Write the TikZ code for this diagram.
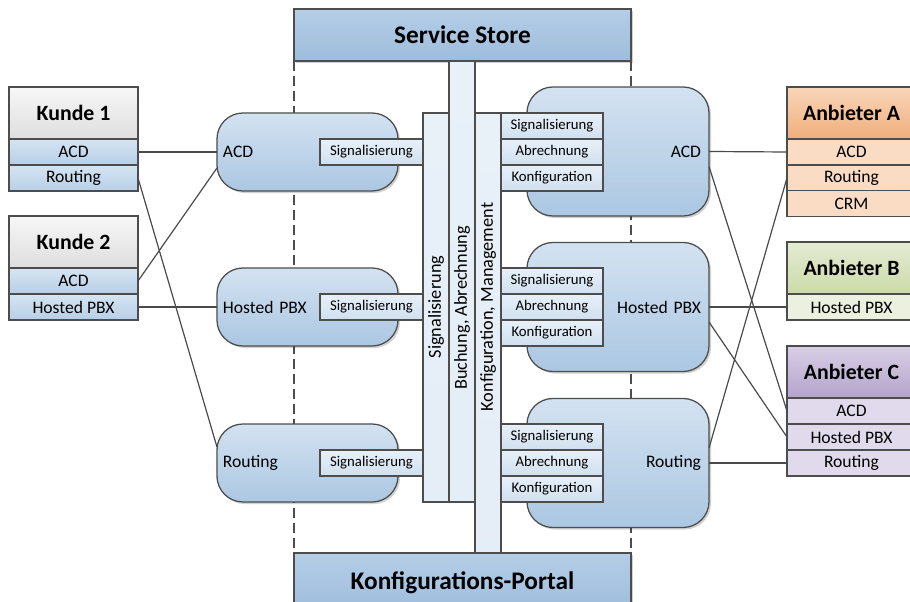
\documentclass[tikz,border=0pt]{standalone}
\usepackage{fontspec}
\setmainfont{Carlito}
\usepackage{tikz}
\usetikzlibrary{shapes,backgrounds,arrows,shadows}

\definecolor{framegray}{HTML}{4D4D4D}
\definecolor{wiregray}{HTML}{4A4A4A}
\definecolor{blueTop}{HTML}{D3E2F1}
\definecolor{blueBot}{HTML}{ABC7E2}
\definecolor{storeTop}{HTML}{B5CEE7}
\definecolor{storeBot}{HTML}{9DBCDC}
\definecolor{paleTop}{HTML}{E8F0F8}
\definecolor{paleBot}{HTML}{D0E0EF}
\definecolor{rowTop}{HTML}{D5E4F2}
\definecolor{rowBot}{HTML}{B7CFE7}
\definecolor{grayTop}{HTML}{F7F7F7}
\definecolor{grayBot}{HTML}{DEDEDE}
\definecolor{orangeTop}{HTML}{F9D6B8}
\definecolor{orangeBot}{HTML}{F0AE7C}
\definecolor{orangeRow}{HTML}{FADCC4}
\definecolor{greenTop}{HTML}{E3EBD2}
\definecolor{greenBot}{HTML}{CCDAA8}
\definecolor{greenRow}{HTML}{EBF1DE}
\definecolor{purpleTop}{HTML}{D8CFE6}
\definecolor{purpleBot}{HTML}{B4A3CB}
\definecolor{purpleRow}{HTML}{E1DAEC}

\tikzset{
	frame/.style={draw=framegray, line width=0.9pt, inner sep=0pt, outer sep=0pt},
	softshadow/.style={drop shadow={shadow xshift=0.05cm, shadow yshift=-0.05cm, opacity=0.18, fill=black}},
	% big bars on top and bottom
	portalbar/.style={frame, softshadow, top color=storeTop, bottom color=storeBot, minimum width=8.425cm,
		font=\fontsize{18}{21}\selectfont\bfseries},
	% customer and provider tables
	headbox/.style={frame, minimum width=3.225cm, minimum height=1.3cm, font=\fontsize{15.5}{18}\selectfont\bfseries},
	rowbox/.style={frame, minimum width=3.225cm, minimum height=0.65cm, font=\fontsize{12.5}{15}\selectfont},
	% service boxes
	lservice/.style={frame, softshadow, rounded corners=0.65cm, top color=blueTop, bottom color=blueBot,
		text width=4.225cm, inner xsep=0.15cm, align=left, minimum height=1.95cm, font=\fontsize{12.5}{15}\selectfont},
	rservice/.style={frame, softshadow, rounded corners=0.65cm, top color=blueTop, bottom color=blueBot,
		text width=4.15cm, inner xsep=0.2cm, align=right, minimum height=3.225cm, font=\fontsize{12.5}{15}\selectfont},
	iface/.style={frame, top color=paleTop, bottom color=paleBot, minimum height=0.65cm, font=\fontsize{10.5}{12}\selectfont},
	busbar/.style={frame, top color=paleTop, bottom color=paleTop!85!paleBot, minimum width=0.65cm},
	bustext/.style={rotate=90, inner sep=0pt, font=\fontsize{13}{15}\selectfont},
	wire/.style={draw=wiregray, line width=0.85pt},
	sepline/.style={draw=framegray, line width=0.9pt, dash pattern=on 7pt off 3.6pt}
}

\begin{document}
\begin{tikzpicture}[x=0.025cm, y=-0.025cm]
	\useasboundingbox (0,0) rectangle (910,602);

	% top and bottom
	\node[portalbar, minimum height=1.3cm] (store) at (462.5, 35) {Service Store};
	\node[portalbar, minimum height=1.5cm, anchor=north] (portal) at (462.5, 553) {Konfigurations-Portal};

	% separators
	\draw[sepline] (store.south west) -- (portal.north west);
	\draw[sepline] (store.south east) -- (portal.north east);

	% Kunden
	\node[headbox, top color=grayTop, bottom color=grayBot] (kunde1) at (73.5, 113) {Kunde 1};
	\node[rowbox, top color=rowTop, bottom color=rowBot] (k1acd) at (73.5, 152) {ACD};
	\node[rowbox, top color=rowTop, bottom color=rowBot] (k1rout) at (73.5, 178) {Routing};
	\node[headbox, top color=grayTop, bottom color=grayBot] (kunde2) at (73.5, 242) {Kunde 2};
	\node[rowbox, top color=rowTop, bottom color=rowBot] (k2acd) at (73.5, 281) {ACD};
	\node[rowbox, top color=rowTop, bottom color=rowBot] (k2pbx) at (73.5, 307) {Hosted PBX};

	% services customer side
	\node[lservice] (lacd) at (307.5, 152) {ACD};
	\node[lservice] (lpbx) at (307.5, 307) {Hosted PBX};
	\node[lservice] (lrout) at (307.5, 463) {Routing};
	\foreach \y/\n in {152/lsig1, 307/lsig2, 463/lsig3}
		\node[iface, minimum width=2.575cm] (\n) at (371.5, \y) {Signalisierung};

	% the three buses
	\node[busbar, minimum height=9.725cm] (bsig) at (436, 307.5) {};
	\node[busbar, minimum height=11.025cm] (bbuch) at (462, 281.5) {};
	\node[busbar, minimum height=11cm] (bkonf) at (488, 333) {};
	\node[bustext] (tsig) at (436, 307) {Signalisierung};
	\node[bustext] (tbuch) at (462, 308) {Buchung, Abrechnung};
	\node[bustext] (tkonf) at (488, 307) {Konfiguration, Management};

	% services provider side
	\node[rservice] (racd) at (618, 151.5) {ACD};
	\node[rservice] (rpbx) at (618, 307) {Hosted PBX};
	\node[rservice] (rrout) at (618, 463) {Routing};
	\foreach \y/\n in {126/racd, 281/rpbx, 437/rrout}{
		\node[iface, minimum width=2.55cm] (\n sig) at (552, \y) {Signalisierung};
		\node[iface, minimum width=2.55cm] (\n abr) at (552, \y+26) {Abrechnung};
		\node[iface, minimum width=2.55cm] (\n konf) at (552, \y+52) {Konfiguration};
	}

	% Anbieter
	\node[headbox, top color=orangeTop, bottom color=orangeBot] (anbA) at (851.5, 113) {Anbieter A};
	\node[rowbox, fill=orangeRow] (aacd) at (851.5, 152) {ACD};
	\node[rowbox, fill=orangeRow] (arout) at (851.5, 178) {Routing};
	\node[rowbox, fill=orangeRow] (acrm) at (851.5, 203.5) {CRM};
	\node[headbox, top color=greenTop, bottom color=greenBot] (anbB) at (851.5, 268) {Anbieter B};
	\node[rowbox, fill=greenRow] (bpbx) at (851.5, 307) {Hosted PBX};
	\node[headbox, top color=purpleTop, bottom color=purpleBot] (anbC) at (851.5, 372) {Anbieter C};
	\node[rowbox, fill=purpleRow] (cacd) at (851.5, 411) {ACD};
	\node[rowbox, fill=purpleRow] (cpbx) at (851.5, 437) {Hosted PBX};
	\node[rowbox, fill=purpleRow] (crout) at (851.5, 463) {Routing};

	% wires customer side
	\draw[wire] (k1acd.east) -- (lacd.west);
	\draw[wire] (k1rout.east) -- ([yshift=0.4cm]lrout.west);
	\draw[wire] (k2acd.east) -- ([yshift=-0.4cm]lacd.west);
	\draw[wire] (k2pbx.east) -- (lpbx.west);
	% wires provider side
	\draw[wire] (racd.east) -- (aacd.west);
	\draw[wire] ([yshift=-0.375cm]racd.east) -- (cacd.west);
	\draw[wire] (rpbx.east) -- (bpbx.west);
	\draw[wire] ([yshift=-0.375cm]rpbx.east) -- (cpbx.west);
	\draw[wire] ([yshift=0.375cm]rrout.east) -- (arout.west);
	\draw[wire] (rrout.east) -- (crout.west);
\end{tikzpicture}
\end{document}
